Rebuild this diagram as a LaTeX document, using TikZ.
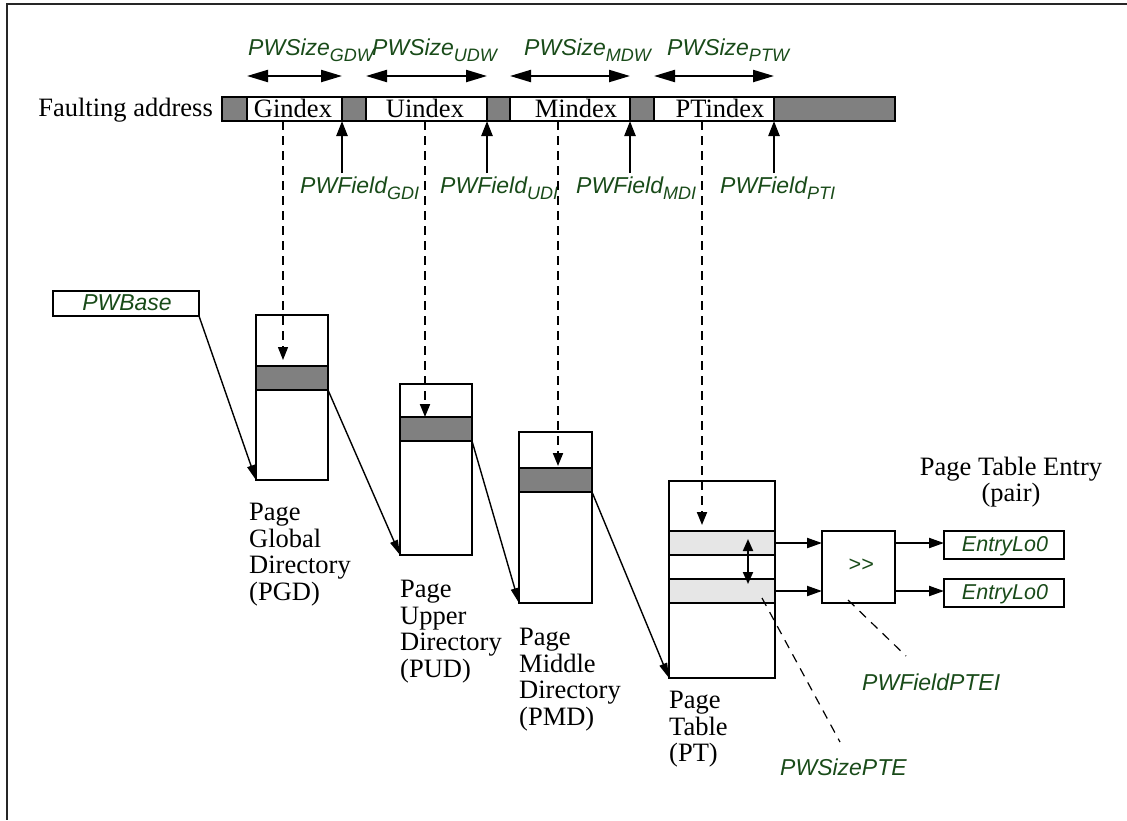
\documentclass[tikz,border=0pt]{standalone}
\usepackage{fontspec}
\setmainfont{Liberation Serif}
\newfontfamily\lsans{Liberation Sans}
\usetikzlibrary{arrows.meta}
\definecolor{lblgreen}{RGB}{25,75,25}
\definecolor{fgray}{RGB}{128,128,128}
\definecolor{lgray}{RGB}{230,230,230}
\newcommand\sbx[1]{\raisebox{-0.3em}{\fontsize{18}{18}\selectfont #1}}
\tikzset{
  frame/.style={line width=2.5pt, black!85},
  seg/.style={draw, line width=2.4pt, anchor=north west, inner sep=0pt, outer sep=0pt, minimum height=24},
  gseg/.style={seg, fill=fgray},
  wseg/.style={seg, fill=white},
  tbox/.style={draw, line width=2.4pt, anchor=north west, inner sep=0pt, outer sep=0pt, fill=white},
  dband/.style={tbox, fill=fgray, minimum height=24},
  lband/.style={tbox, fill=lgray, minimum height=24},
  lbl/.style={font=\fontsize{23}{25}\selectfont\lsans\itshape, text=lblgreen, inner sep=0pt},
  slbl/.style={font=\fontsize{21.5}{23}\selectfont\lsans\itshape, text=lblgreen, inner sep=0pt},
  serif/.style={font=\fontsize{26.5}{26.5}\selectfont, inner sep=0pt},
  dimarrow/.style={line width=2.2pt, {Triangle[length=21pt,width=12pt]}-{Triangle[length=21pt,width=12pt]}},
  fieldarrow/.style={line width=2.4pt, -{Triangle[length=15pt,width=11pt]}},
  thinarrow/.style={line width=1.4pt, -{Triangle[length=15pt,width=8pt]}},
  dasharrow/.style={dash pattern=on 9pt off 6pt, -{Triangle[length=13pt,width=10pt]}},
  harrow/.style={line width=2pt, -{Triangle[length=15pt,width=10pt]}},
  leader/.style={line width=1.2pt, dash pattern=on 9pt off 7pt},
}
\begin{document}
\begin{tikzpicture}[x=1pt,y=-1pt]
\useasboundingbox (0,0) rectangle (1127,820);
\draw[frame] (1127,4) -- (7,4) -- (7,820);

% faulting address bar
\node[serif, anchor=base east] (fa) at (213,116) {Faulting address};
\node[gseg, minimum width=25] (s0) at (222,97) {};
\node[wseg, minimum width=95] (gi) at (247,97) {};
\node[gseg, minimum width=24] (s1) at (342,97) {};
\node[wseg, minimum width=121] (ui) at (366,97) {};
\node[gseg, minimum width=23] (s2) at (487,97) {};
\node[wseg, minimum width=120] (mi) at (510,97) {};
\node[gseg, minimum width=24] (s3) at (630,97) {};
\node[wseg, minimum width=120] (pi) at (654,97) {};
\node[gseg, minimum width=121] (s4) at (774,97) {};
\node[serif, anchor=base] (gtxt) at (293,117) {Gindex};
\node[serif, anchor=base] (utxt) at (425,117) {Uindex};
\node[serif, anchor=base] (mtxt) at (576,117) {Mindex};
\node[serif, anchor=base] (ptxt) at (720,117) {PTindex};

% size labels and arrows
\node[lbl, anchor=base west] (szg) at (248,55) {PWSize\sbx{GDW}};
\node[lbl, anchor=base west] (szu) at (372,55) {PWSize\sbx{UDW}};
\node[lbl, anchor=base west] (szm) at (524,55) {PWSize\sbx{MDW}};
\node[lbl, anchor=base west] (szp) at (667,55) {PWSize\sbx{PTW}};
\draw[dimarrow] ([yshift=21pt]gi.north west) -- ([yshift=21pt]gi.north east);
\draw[dimarrow] ([yshift=21pt]ui.north west) -- ([yshift=21pt]ui.north east);
\draw[dimarrow] ([yshift=21pt]mi.north west) -- ([yshift=21pt]mi.north east);
\draw[dimarrow] ([yshift=21pt]pi.north west) -- ([yshift=21pt]pi.north east);

% field arrows and labels
\draw[fieldarrow] ([yshift=-52pt]gi.south east) -- (gi.south east);
\draw[fieldarrow] ([yshift=-52pt]ui.south east) -- (ui.south east);
\draw[fieldarrow] ([yshift=-52pt]mi.south east) -- (mi.south east);
\draw[fieldarrow] ([yshift=-52pt]pi.south east) -- (pi.south east);
\node[lbl, anchor=base west] (fg) at (300,193) {PWField\sbx{GDI}};
\node[lbl, anchor=base west] (fu) at (440,193) {PWField\sbx{UDI}};
\node[lbl, anchor=base west] (fm) at (576,193) {PWField\sbx{MDI}};
\node[lbl, anchor=base west] (fp) at (720,193) {PWField\sbx{PTI}};

% PWBase
\node[tbox, minimum width=146, minimum height=25] (base) at (53,291) {};
\node[lbl] (basetxt) at (127,303) {PWBase};

% directories
\node[tbox, minimum width=72, minimum height=165] (pgd) at (256,315) {};
\node[dband, minimum width=72] (pgdb) at (256,366) {};
\node[tbox, minimum width=72, minimum height=171] (pud) at (400,384) {};
\node[dband, minimum width=72] (pudb) at (400,417) {};
\node[tbox, minimum width=73, minimum height=171] (pmd) at (519,432) {};
\node[dband, minimum width=73] (pmdb) at (519,468) {};
\node[tbox, minimum width=106, minimum height=197] (pt) at (669,481) {};
\node[lband, minimum width=106] (ptb1) at (669,531) {};
\node[lband, minimum width=106] (ptb2) at (669,579) {};

\node[serif, anchor=north west, align=left] (pgdl) at (249,503) {Page\\Global\\Directory\\(PGD)};
\node[serif, anchor=north west, align=left] (pudl) at (400,580) {Page\\Upper\\Directory\\(PUD)};
\node[serif, anchor=north west, align=left] (pmdl) at (519,628) {Page\\Middle\\Directory\\(PMD)};
\node[serif, anchor=north west, align=left] (ptl) at (669,691) {Page\\Table\\(PT)};

% index dashed arrows
\coordinate (gin) at (283,360);
\coordinate (uin) at (425,417);
\coordinate (min) at (558,466);
\coordinate (pin) at (702,525);
\draw[dasharrow, line width=1.2pt] (gin |- gi.south) -- (gin);
\draw[dasharrow, line width=2pt] (uin |- ui.south) -- (uin);
\draw[dasharrow, line width=2pt] (min |- mi.south) -- (min);
\draw[dasharrow, line width=2pt] (pin |- pi.south) -- (pin);

% base pointers
\draw[thinarrow] (base.south east) -- (pgd.south west);
\draw[thinarrow] (pgdb.south east) -- (pud.south west);
\draw[thinarrow] (pudb.south east) -- (pmd.south west);
\draw[thinarrow] (pmdb.south east) -- (pt.south west);

% shifter and entries
\node[tbox, minimum width=73, minimum height=72] (shr) at (822,531) {};
\node[slbl] (shrtxt) at (861,565) {>>};
\node[tbox, minimum width=120, minimum height=28] (e1) at (944,531) {};
\node[tbox, minimum width=120, minimum height=28] (e2) at (944,579) {};
\node[slbl] (e1t) at (1005,546) {EntryLo0};
\node[slbl] (e2t) at (1005,594) {EntryLo0};
\node[serif, align=center] (pte) at (1011,482) {Page Table Entry\\(pair)};

\draw[harrow] (ptb1.east) -- (ptb1.east -| shr.west);
\draw[harrow] (ptb2.east) -- (ptb2.east -| shr.west);
\draw[harrow] (shr.east |- ptb1.east) -- (e1.west |- ptb1.east);
\draw[harrow] (shr.east |- ptb2.east) -- (e2.west |- ptb2.east);

% PTE size double arrow
\coordinate (ds1) at (748,539);
\coordinate (ds2) at (748,584);
\draw[line width=2pt, {Triangle[length=12pt,width=10pt]}-{Triangle[length=12pt,width=10pt]}] (ds1) -- (ds2);

% leaders
\coordinate (l1a) at (762,598);
\coordinate (l1b) at (840,742);
\draw[leader] (l1a) -- (l1b);
\node[lbl, anchor=base west] (szpte) at (780,775) {PWSizePTE};
\coordinate (l2a) at (848,600);
\coordinate (l2b) at (906,656);
\draw[leader] (l2a) -- (l2b);
\node[lbl, anchor=base west] (fpte) at (862,690) {PWFieldPTEI};
\end{tikzpicture}
\end{document}
